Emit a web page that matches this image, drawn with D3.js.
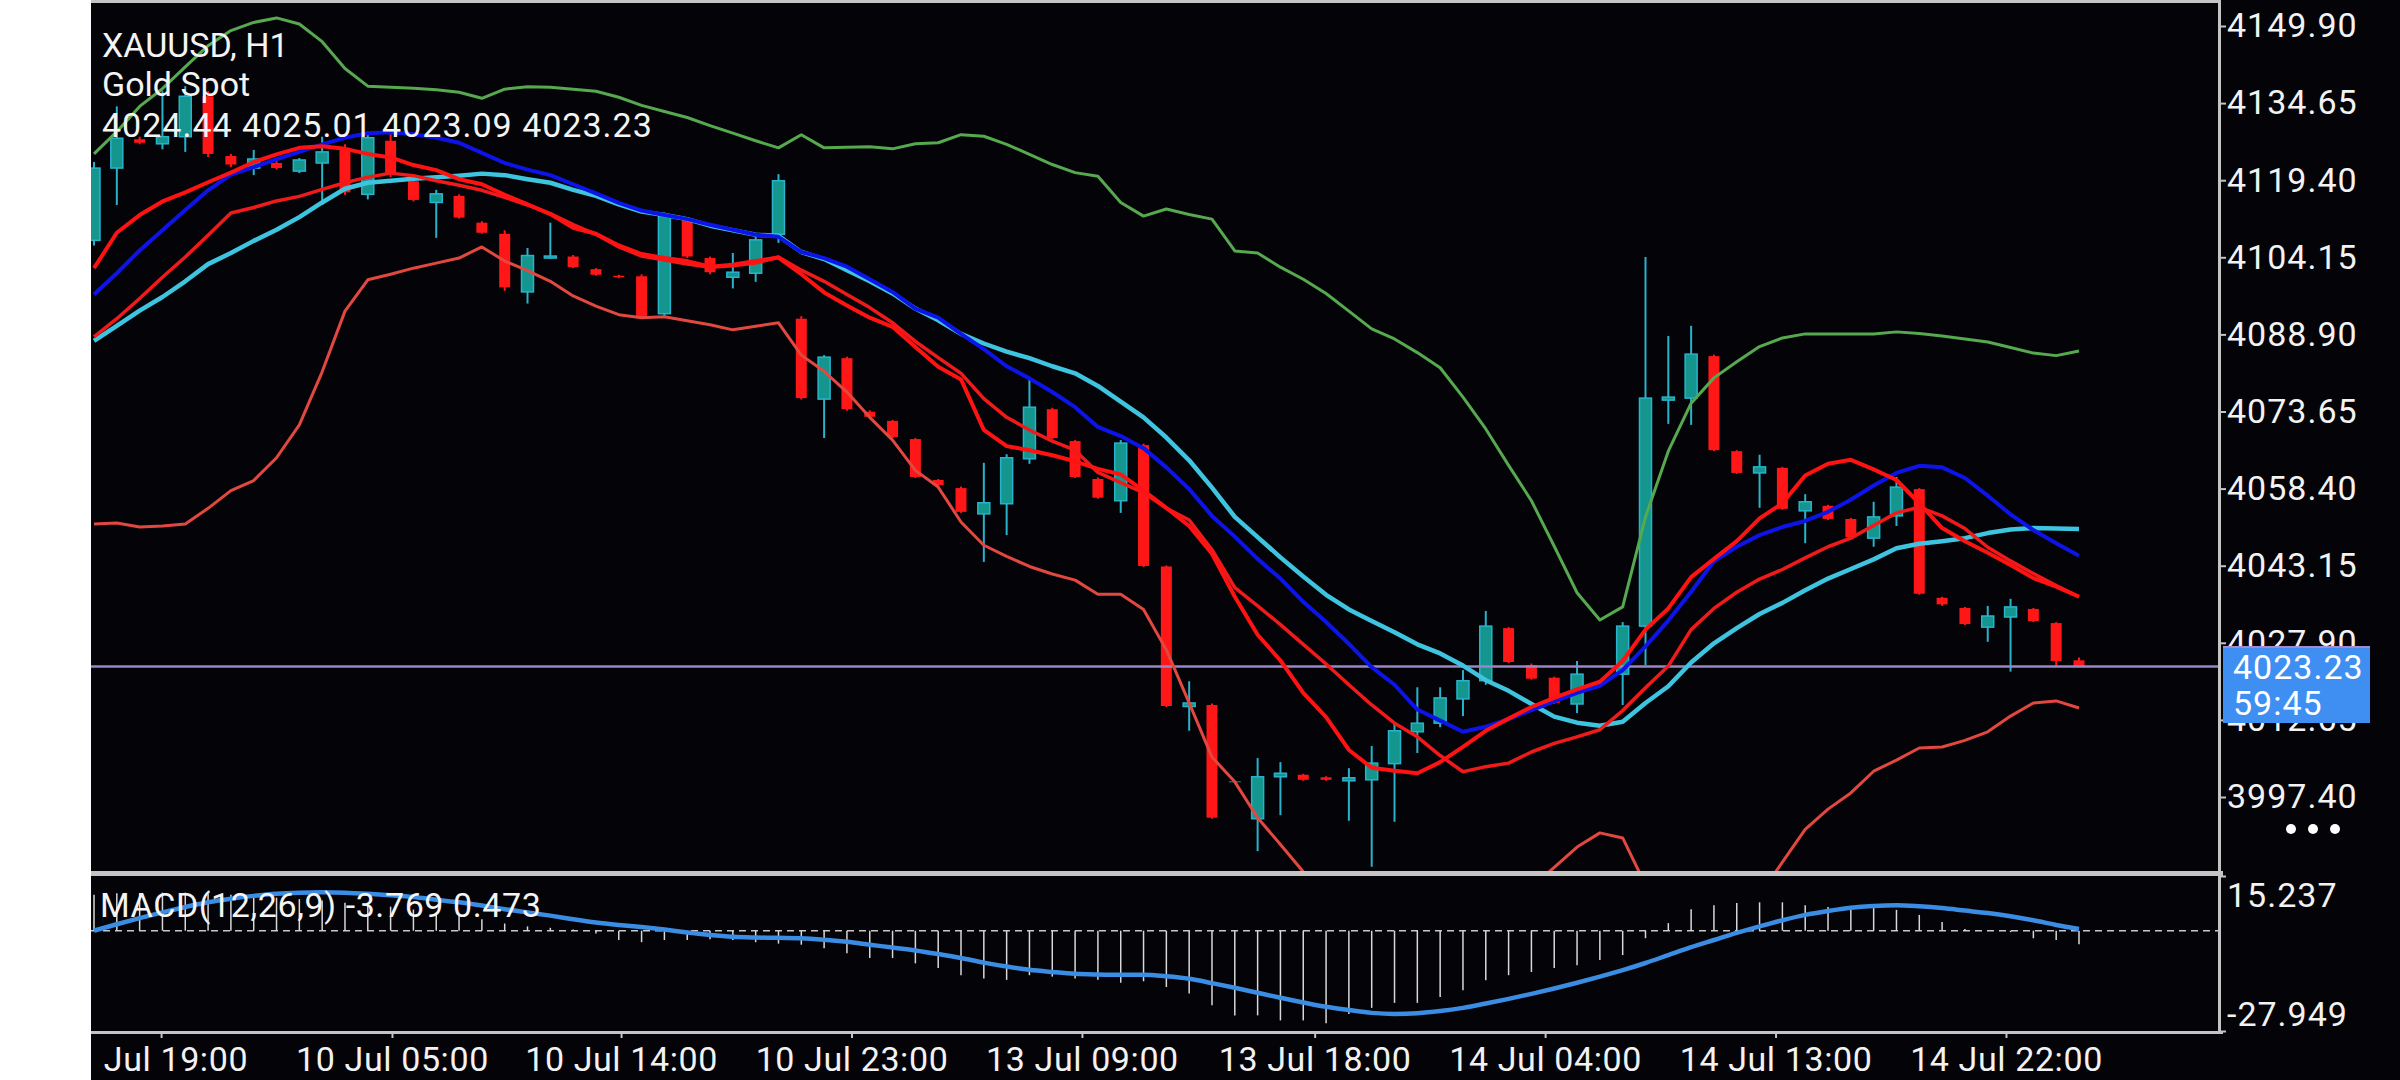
<!DOCTYPE html>
<html>
<head>
<meta charset="utf-8">
<script src="https://cdn.jsdelivr.net/npm/d3@7"></script>
<style>
  body { margin: 0; background: #fff; }
  svg { display: block; }
  text { font-family: Roboto, "Noto Sans", sans-serif; }
</style>
</head>
<body>
<svg width="2400" height="1080"></svg>
<script>
// XAUUSD H1 bars, left to right
var opens = [4107.5,4121.8,4127.5,4126.6,4128.0,4136.0,4124.2,4121.8,4122.8,4121.2,
  4122.8,4125.8,4116.6,4127.2,4119.2,4115.0,4116.3,4111.0,4108.8,4097.3,
  4104.0,4104.3,4101.8,4100.5,4100.4,4093.0,4111.5,4104.0,4100.2,4101.0,
  4108.7,4092.0,4076.1,4084.2,4073.6,4071.8,4068.2,4060.1,4058.5,4053.4,
  4055.4,4064.3,4074.1,4067.8,4060.3,4056.0,4067.0,4043.0,4015.3,4015.6,
  4000.5,3993.1,4001.4,4001.8,4001.3,4000.6,4000.8,4004.0,4010.3,4012.0,
  4016.8,4020.4,4030.8,4023.5,4021.0,4015.8,4020.0,4021.7,4031.2,4075.9,
  4076.3,4084.6,4065.8,4061.5,4062.5,4054.0,4055.0,4052.4,4048.6,4053.0,
  4058.3,4036.8,4034.8,4031.0,4033.0,4034.6,4031.8,4024.44];
var highs = [4123.0,4134.0,4128.0,4137.0,4138.0,4137.0,4124.6,4125.4,4123.2,4123.8,
  4128.0,4126.5,4129.0,4129.5,4119.6,4117.5,4116.6,4111.3,4109.5,4106.0,
  4111.0,4104.6,4102.0,4100.7,4100.8,4113.0,4112.0,4104.3,4105.0,4108.5,
  4120.6,4092.5,4084.8,4084.5,4073.9,4072.0,4068.4,4060.3,4058.8,4063.5,
  4065.2,4080.3,4074.4,4068.0,4060.6,4068.0,4067.3,4043.2,4020.3,4015.9,
  4000.5,4005.1,4004.3,4002.0,4001.5,4003.1,4007.5,4012.0,4019.1,4019.1,
  4022.5,4034.2,4031.0,4023.8,4021.2,4024.3,4020.0,4032.0,4104.2,4088.6,
  4090.6,4084.9,4066.0,4065.1,4062.7,4057.3,4055.2,4052.6,4055.8,4060.7,
  4058.5,4037.0,4035.0,4035.2,4036.6,4034.8,4032.0,4025.01];
var lows = [4106.5,4114.5,4126.5,4125.5,4125.0,4124.0,4122.0,4120.4,4121.5,4120.8,
  4114.5,4116.5,4115.6,4120.0,4115.2,4108.0,4111.8,4108.8,4097.5,4095.0,
  4103.8,4102.0,4100.5,4100.0,4092.0,4092.5,4104.0,4100.8,4098.0,4099.3,
  4107.0,4076.0,4068.4,4073.8,4072.4,4068.4,4060.5,4058.9,4053.6,4043.9,
  4049.2,4063.3,4068.2,4060.5,4056.4,4053.6,4042.9,4015.2,4010.5,3993.1,
  4000.5,3986.7,3993.8,4000.6,4000.6,3992.7,3983.6,3992.5,4006.1,4011.2,
  4013.4,4019.6,4023.9,4020.6,4015.8,4014.0,4020.0,4015.6,4023.5,4071.2,
  4071.0,4065.8,4061.3,4054.6,4054.2,4047.6,4052.2,4048.6,4046.9,4051.0,
  4037.4,4035.2,4031.4,4028.1,4022.2,4032.0,4023.1,4023.09];
var closes = [4121.8,4127.7,4126.8,4128.0,4136.0,4124.6,4122.5,4123.6,4121.8,4123.4,
  4125.0,4117.0,4127.8,4120.5,4115.5,4116.7,4112.0,4109.0,4098.2,4104.5,
  4104.4,4102.2,4100.7,4100.2,4092.2,4112.4,4104.3,4101.2,4101.2,4107.6,
  4119.3,4076.3,4084.4,4074.1,4072.6,4068.6,4060.7,4059.1,4053.8,4055.6,
  4064.5,4074.5,4068.4,4060.7,4056.6,4067.4,4043.1,4015.4,4016.0,3993.3,
  4000.5,4001.4,4002.1,4000.8,4000.8,4001.2,4004.1,4010.5,4012.0,4017.0,
  4020.4,4031.2,4024.1,4020.8,4016.0,4021.7,4020.0,4031.2,4076.3,4076.5,
  4085.0,4066.0,4061.5,4062.7,4054.4,4055.8,4052.4,4048.8,4052.8,4058.7,
  4037.6,4035.5,4031.6,4033.2,4035.0,4032.2,4024.3,4023.23];

// indicator lines
var bbUpper = [4124.6,4129.0,4134.0,4137.5,4141.8,4146.0,4149.0,4150.6,4151.5,4150.3,
  4146.8,4141.5,4138.0,4137.8,4137.6,4137.3,4136.8,4135.6,4137.4,4137.9,
  4137.8,4137.4,4137.0,4135.8,4134.2,4133.0,4131.8,4130.2,4128.7,4127.2,
  4125.8,4128.4,4125.8,4125.9,4126.0,4125.6,4126.6,4126.8,4128.4,4128.1,
  4126.5,4124.5,4122.5,4120.9,4120.2,4115.0,4112.3,4113.7,4112.6,4111.7,
  4105.4,4105.0,4102.2,4099.8,4097.0,4093.5,4090.0,4088.0,4085.3,4082.3,
  4076.5,4070.2,4063.0,4056.0,4047.0,4037.8,4032.4,4035.0,4052.8,4065.8,
  4075.3,4080.3,4083.5,4086.5,4088.2,4089.0,4089.0,4089.0,4089.0,4089.4,
  4089.1,4088.6,4088.0,4087.4,4086.3,4085.2,4084.7,4085.6];
var bbLower = [4051.4,4051.6,4050.8,4051.0,4051.4,4054.5,4058.0,4060.0,4064.5,4071.0,
  4081.5,4093.5,4099.7,4100.8,4102.0,4103.0,4104.0,4106.2,4103.4,4101.5,
  4099.4,4096.5,4094.5,4092.8,4092.2,4092.4,4091.6,4090.8,4089.8,4090.5,
  4091.2,4084.8,4081.6,4077.5,4072.5,4068.0,4062.0,4058.7,4051.8,4047.2,
  4045.0,4043.0,4041.5,4040.3,4037.5,4037.5,4034.5,4026.5,4016.0,4005.3,
  4000.4,3993.3,3988.0,3982.6,3978.0,3974.0,3971.0,3969.0,3968.0,3968.5,
  3970.0,3972.5,3976.0,3979.5,3983.5,3987.5,3990.3,3989.3,3980.0,3972.0,
  3966.0,3963.0,3970.0,3978.0,3984.5,3991.0,3995.0,3998.2,4002.5,4004.7,
  4007.1,4007.3,4008.6,4010.3,4013.4,4016.0,4016.4,4015.0];
var maBlue = [4096.8,4101.0,4105.5,4109.5,4113.5,4117.4,4120.5,4122.0,4123.5,4125.0,
  4126.5,4127.8,4128.7,4128.9,4128.5,4127.8,4126.8,4124.8,4122.8,4121.5,
  4120.4,4118.6,4116.8,4114.9,4113.4,4112.5,4111.7,4110.6,4109.6,4108.6,
  4108.2,4105.2,4104.0,4102.3,4099.8,4097.3,4094.0,4092.2,4089.0,4086.0,
  4082.6,4080.2,4077.5,4074.5,4070.6,4068.8,4066.4,4062.6,4058.3,4053.0,
  4048.9,4044.5,4040.6,4036.0,4032.0,4027.7,4023.1,4019.6,4014.7,4012.5,
  4010.3,4011.3,4012.8,4014.6,4016.3,4018.0,4019.4,4022.5,4027.2,4032.3,
  4038.0,4044.0,4046.9,4049.2,4050.8,4052.0,4053.8,4056.2,4059.0,4061.5,
  4062.9,4062.6,4060.5,4057.0,4053.3,4050.2,4047.6,4045.1];
var maCyan = [4087.6,4090.6,4093.6,4096.3,4099.4,4102.8,4105.0,4107.4,4109.6,4112.1,
  4115.0,4117.7,4118.9,4119.3,4119.7,4120.0,4120.3,4120.7,4120.4,4119.6,
  4118.9,4117.5,4116.3,4114.6,4113.2,4112.5,4111.7,4110.4,4109.5,4108.6,
  4108.4,4105.2,4103.8,4101.6,4099.4,4097.0,4094.0,4091.7,4089.0,4087.1,
  4085.5,4084.2,4082.6,4081.2,4078.7,4075.6,4072.5,4068.5,4064.0,4058.6,
  4052.8,4048.8,4044.8,4041.0,4037.4,4034.5,4032.2,4030.0,4027.6,4025.8,
  4023.4,4020.5,4018.4,4015.8,4013.3,4012.1,4011.5,4012.3,4016.0,4019.3,
  4024.0,4027.8,4030.8,4033.6,4035.8,4038.3,4040.6,4042.5,4044.4,4046.6,
  4047.5,4048.0,4048.6,4049.6,4050.3,4050.6,4050.5,4050.4];
var maRedFast = [4102.0,4109.0,4112.5,4115.2,4117.0,4119.0,4120.9,4123.0,4124.5,4125.8,
  4126.1,4125.6,4124.6,4123.9,4122.4,4121.4,4119.6,4118.6,4116.5,4114.6,
  4112.7,4110.0,4108.8,4106.5,4104.8,4104.0,4103.4,4102.3,4102.7,4103.4,
  4104.1,4100.8,4097.2,4094.6,4092.2,4090.4,4086.4,4082.5,4080.0,4070.0,
  4066.8,4066.0,4065.0,4063.8,4062.3,4061.2,4058.0,4054.6,4051.0,4045.5,
  4037.0,4029.5,4024.4,4018.0,4013.2,4006.7,4003.2,4002.6,4002.1,4004.3,
  4007.3,4010.5,4012.9,4015.2,4017.0,4018.7,4020.2,4024.3,4030.5,4034.7,
  4040.9,4044.5,4048.0,4052.5,4055.5,4061.0,4063.3,4064.1,4062.2,4060.1,
  4055.5,4050.6,4048.0,4045.7,4043.3,4040.7,4039.0,4037.0];
var maRedSlow = [4088.4,4092.0,4096.0,4100.2,4104.2,4108.5,4112.9,4114.0,4115.3,4116.2,
  4117.6,4118.9,4120.0,4120.8,4120.3,4119.3,4118.4,4117.4,4116.0,4114.5,
  4112.8,4110.6,4108.7,4106.2,4104.4,4103.6,4102.8,4102.2,4102.5,4103.0,
  4104.2,4101.6,4099.4,4096.8,4094.2,4091.2,4087.5,4084.3,4081.2,4076.2,
  4072.5,4070.0,4067.8,4066.0,4061.6,4059.6,4057.6,4054.5,4052.2,4046.3,
  4038.8,4035.2,4031.5,4027.6,4023.7,4019.6,4015.6,4012.0,4009.3,4005.6,
  4002.4,4003.4,4004.1,4006.3,4008.0,4009.3,4010.7,4014.5,4019.0,4023.3,
  4030.5,4034.7,4037.9,4040.5,4042.4,4044.7,4046.9,4048.6,4051.1,4053.6,
  4054.7,4053.0,4050.5,4046.8,4044.1,4041.6,4039.2,4037.0];

// MACD(12,26,9): histogram = main, line = signal
var macdMain = [10.0,10.4,10.5,10.6,10.6,10.3,10.0,9.6,9.2,8.8,
  8.4,7.8,7.4,6.7,5.9,5.0,4.1,3.2,2.0,1.2,
  0.8,0.3,-0.8,-2.6,-3.2,-2.6,-2.6,-2.4,-2.6,-3.2,
  -3.6,-3.9,-4.9,-6.3,-7.6,-7.6,-9.1,-10.4,-12.4,-13.3,
  -13.7,-12.4,-12.8,-13.3,-13.7,-14.5,-14.1,-15.7,-17.5,-20.8,
  -23.6,-23.6,-25.0,-25.0,-25.8,-23.2,-21.5,-20.1,-20.1,-18.5,
  -16.6,-13.8,-12.4,-11.5,-10.4,-9.6,-8.2,-6.8,-2.1,2.1,
  6.0,7.1,7.7,7.9,7.9,7.1,6.6,6.6,6.3,5.8,
  4.4,2.4,0.5,0.1,-0.4,-2.1,-2.6,-3.769];
var macdSignal = [0.0,1.8,3.5,5.1,6.6,7.9,8.9,9.7,10.3,10.6,
  10.7,10.6,10.3,9.9,9.4,8.6,7.9,7.0,6.0,5.1,
  4.2,3.2,2.3,1.6,1.0,0.3,-0.5,-1.2,-1.7,-1.9,
  -2.0,-2.1,-2.5,-3.1,-3.9,-4.7,-5.5,-6.5,-7.6,-8.9,
  -10.0,-10.9,-11.5,-12.0,-12.2,-12.3,-12.3,-12.7,-13.4,-14.6,
  -15.9,-17.3,-18.7,-20.0,-21.2,-22.1,-22.9,-23.2,-23.0,-22.4,
  -21.5,-20.3,-19.0,-17.6,-16.1,-14.5,-12.8,-11.0,-9.0,-6.8,
  -4.6,-2.6,-0.6,1.2,2.9,4.4,5.5,6.4,6.9,7.1,
  6.8,6.3,5.6,4.9,4.0,2.9,1.6,0.473];

// axis labels
var priceTicks = [4149.90,4134.65,4119.40,4104.15,4088.90,4073.65,4058.40,4043.15,4027.90,4012.65,3997.40];
var macdTicks = [15.237, -27.949];
var timeLabels = ["9 Jul 19:00","10 Jul 05:00","10 Jul 14:00","10 Jul 23:00","13 Jul 09:00",
  "13 Jul 18:00","14 Jul 04:00","14 Jul 13:00","14 Jul 22:00"];
var timeTickIdx = [2.94,13.06,23.1,33.2,43.3,53.5,63.6,73.7,83.8];
var lastPrice = 4023.23, countdown = "59:45";

var svg = d3.select("svg"),
  width = +svg.attr("width"),
  height = +svg.attr("height");

var left = 91, right = 2219;
var mainTop = 3, mainBottom = 871, subTop = 876, subBottom = 1031;

var x = d3.scaleLinear().domain([0, 87]).range([94, 2079]);
var y = d3.scaleLinear().domain([3997.40, 4149.90]).range([797, 26]);
var ym = d3.scaleLinear().domain([-27.949, 15.237]).range([subBottom, subTop]);

// backgrounds
svg.append("rect").attr("x", 0).attr("y", 0).attr("width", left).attr("height", height).attr("fill", "#fff");
svg.append("rect").attr("x", left).attr("y", 0).attr("width", width - left).attr("height", height).attr("fill", "#030308");

var defs = svg.append("defs");
defs.append("clipPath").attr("id", "clipMain").append("rect")
  .attr("x", left).attr("y", mainTop).attr("width", right - left).attr("height", mainBottom - mainTop);
defs.append("clipPath").attr("id", "clipSub").append("rect")
  .attr("x", left).attr("y", subTop).attr("width", right - left).attr("height", subBottom - subTop);
defs.append("clipPath").attr("id", "clipTime").append("rect")
  .attr("x", 100).attr("y", subBottom).attr("width", right - 100).attr("height", height - subBottom);

var main = svg.append("g").attr("clip-path", "url(#clipMain)");

// candles
var bars = d3.range(opens.length).map(function(i) {
  return {i: i, o: opens[i], h: highs[i], l: lows[i], c: closes[i]};
});
var bullWick = "#29b3cb", bullBody = "#14968f", bear = "#ff1616";

main.append("g").selectAll("line")
  .data(bars).enter().append("line")
    .attr("x1", function(d) { return x(d.i); })
    .attr("x2", function(d) { return x(d.i); })
    .attr("y1", function(d) { return y(d.h); })
    .attr("y2", function(d) { return y(d.l); })
    .attr("stroke", function(d) { return d.c >= d.o ? bullWick : bear; })
    .attr("stroke-width", 2);

main.append("g").selectAll("rect")
  .data(bars).enter().append("rect")
    .attr("x", function(d) { return x(d.i) - (d.c >= d.o ? 6 : 5.5); })
    .attr("width", function(d) { return d.c >= d.o ? 12 : 11; })
    .attr("y", function(d) { return y(Math.max(d.o, d.c)); })
    .attr("height", function(d) { return Math.max(1, Math.abs(y(d.o) - y(d.c))); })
    .attr("fill", function(d) { return d.c >= d.o ? bullBody : bear; })
    .attr("stroke", function(d) { return d.c >= d.o && d.c != d.o ? bullWick : "none"; })
    .attr("stroke-width", 1.5);

// current price line
main.append("line")
  .attr("x1", left).attr("x2", right)
  .attr("y1", y(lastPrice)).attr("y2", y(lastPrice))
  .attr("stroke", "#9a85c6").attr("stroke-width", 2.5);

// indicator lines
var line = d3.line().x(function(d, i) { return x(i); }).y(function(d) { return y(d); });
var series = [
  {v: bbUpper, color: "#56a94e", w: 3},
  {v: bbLower, color: "#e2483f", w: 3},
  {v: maCyan, color: "#3ec4df", w: 4.5},
  {v: maBlue, color: "#0d14e8", w: 4},
  {v: maRedSlow, color: "#f01a1a", w: 3.5},
  {v: maRedFast, color: "#ff1212", w: 4}
];
main.append("g").selectAll("path")
  .data(series).enter().append("path")
    .attr("d", function(d) { return line(d.v); })
    .attr("fill", "none")
    .attr("stroke", function(d) { return d.color; })
    .attr("stroke-width", function(d) { return d.w; })
    .attr("stroke-linejoin", "round");

// MACD pane
var sub = svg.append("g").attr("clip-path", "url(#clipSub)");
sub.append("line")
  .attr("x1", left).attr("x2", right)
  .attr("y1", ym(0)).attr("y2", ym(0))
  .attr("stroke", "#c8c8c8").attr("stroke-width", 1.5).attr("stroke-dasharray", "7,5");
sub.append("g").selectAll("line")
  .data(macdMain).enter().append("line")
    .attr("x1", function(d, i) { return x(i); })
    .attr("x2", function(d, i) { return x(i); })
    .attr("y1", ym(0))
    .attr("y2", function(d) { return ym(d); })
    .attr("stroke", "#d8d8d8").attr("stroke-width", 1.5);
sub.append("path")
  .attr("d", d3.line().x(function(d, i) { return x(i); }).y(function(d) { return ym(d); }).curve(d3.curveMonotoneX)(macdSignal))
  .attr("fill", "none").attr("stroke", "#3a8de2").attr("stroke-width", 4.5);

// frame lines
var frame = "#c4c4c4";
svg.append("rect").attr("x", left).attr("y", 0).attr("width", right - left).attr("height", 3).attr("fill", frame);
svg.append("rect").attr("x", left).attr("y", mainBottom).attr("width", right - left + 4).attr("height", 5).attr("fill", frame);
svg.append("rect").attr("x", left).attr("y", subBottom).attr("width", right - left + 4).attr("height", 3).attr("fill", frame);
svg.append("rect").attr("x", right - 1).attr("y", 0).attr("width", 3).attr("height", subBottom + 3).attr("fill", frame);

// price axis
var priceAxis = svg.append("g")
  .attr("transform", "translate(" + (right + 1) + ",0)")
  .call(d3.axisRight(y).tickValues(priceTicks).tickFormat(d3.format(".2f")).tickSize(6).tickPadding(1));
priceAxis.select(".domain").remove();
priceAxis.selectAll("line").attr("stroke", frame).attr("stroke-width", 2);
priceAxis.selectAll("text").attr("fill", "#f2f2f2").attr("font-size", 34).attr("font-family", "Roboto")
  .attr("letter-spacing", 1);

// macd axis
var macdAxis = svg.append("g")
  .attr("transform", "translate(" + (right + 1) + ",0)")
  .call(d3.axisRight(ym).tickValues(macdTicks).tickFormat(d3.format(".3f")).tickSize(6).tickPadding(1));
macdAxis.select(".domain").remove();
macdAxis.selectAll("line").attr("stroke", frame).attr("stroke-width", 2);
macdAxis.selectAll("text").attr("fill", "#f2f2f2").attr("font-size", 34).attr("font-family", "Roboto")
  .attr("letter-spacing", 1)
  .attr("dy", function(d) { return d > 0 ? "0.9em" : "-0.15em"; })
  .text(function(d) { return d3.format(".3f")(d).replace("\u2212", "-"); });

// time axis
var timeAxis = svg.append("g")
  .attr("clip-path", "url(#clipTime)")
  .append("g")
  .attr("transform", "translate(0," + (subBottom + 2) + ")")
  .call(d3.axisBottom(x).tickValues(timeTickIdx).tickFormat(function(d, i) { return timeLabels[i]; }).tickSize(5).tickPadding(9));
timeAxis.select(".domain").remove();
timeAxis.selectAll("line").attr("stroke", frame).attr("stroke-width", 2);
timeAxis.selectAll("text").attr("fill", "#f2f2f2").attr("font-size", 34).attr("font-family", "Roboto")
  .attr("letter-spacing", 0.6);

// last price box
svg.append("rect").attr("x", 2223).attr("y", 647).attr("width", 147).attr("height", 76).attr("fill", "#3f8ff2");
svg.append("rect").attr("x", 2223).attr("y", 646).attr("width", 147).attr("height", 2).attr("fill", "#a58ad0");
svg.append("text").attr("x", 2233).attr("y", 679).attr("fill", "#fff").attr("font-size", 34)
  .attr("letter-spacing", 1).text(d3.format(".2f")(lastPrice));
svg.append("text").attr("x", 2233).attr("y", 715).attr("fill", "#fff").attr("font-size", 34)
  .attr("letter-spacing", 1).text(countdown);

// menu dots
svg.append("g").selectAll("circle")
  .data([0, 1, 2]).enter().append("circle")
    .attr("cx", function(d) { return 2291 + d * 22; })
    .attr("cy", 829).attr("r", 5).attr("fill", "#fff");

// header texts
var head = svg.append("g").attr("fill", "#f4f4f4").attr("font-size", 34);
head.append("text").attr("x", 102).attr("y", 57).text("XAUUSD, H1");
head.append("text").attr("x", 102).attr("y", 96).text("Gold Spot");
head.append("text").attr("x", 102).attr("y", 137).attr("letter-spacing", 1)
  .text([opens[87], highs[87], lows[87], closes[87]].map(d3.format(".2f")).join(" "));
svg.append("text").attr("x", 100).attr("y", 917).attr("fill", "#f4f4f4").attr("font-size", 34)
  .attr("letter-spacing", 0.6)
  .text("MACD(12,26,9) " + d3.format(".3f")(macdMain[87]).replace("\u2212", "-") + " " + d3.format(".3f")(macdSignal[87]));
</script>
</body>
</html>
